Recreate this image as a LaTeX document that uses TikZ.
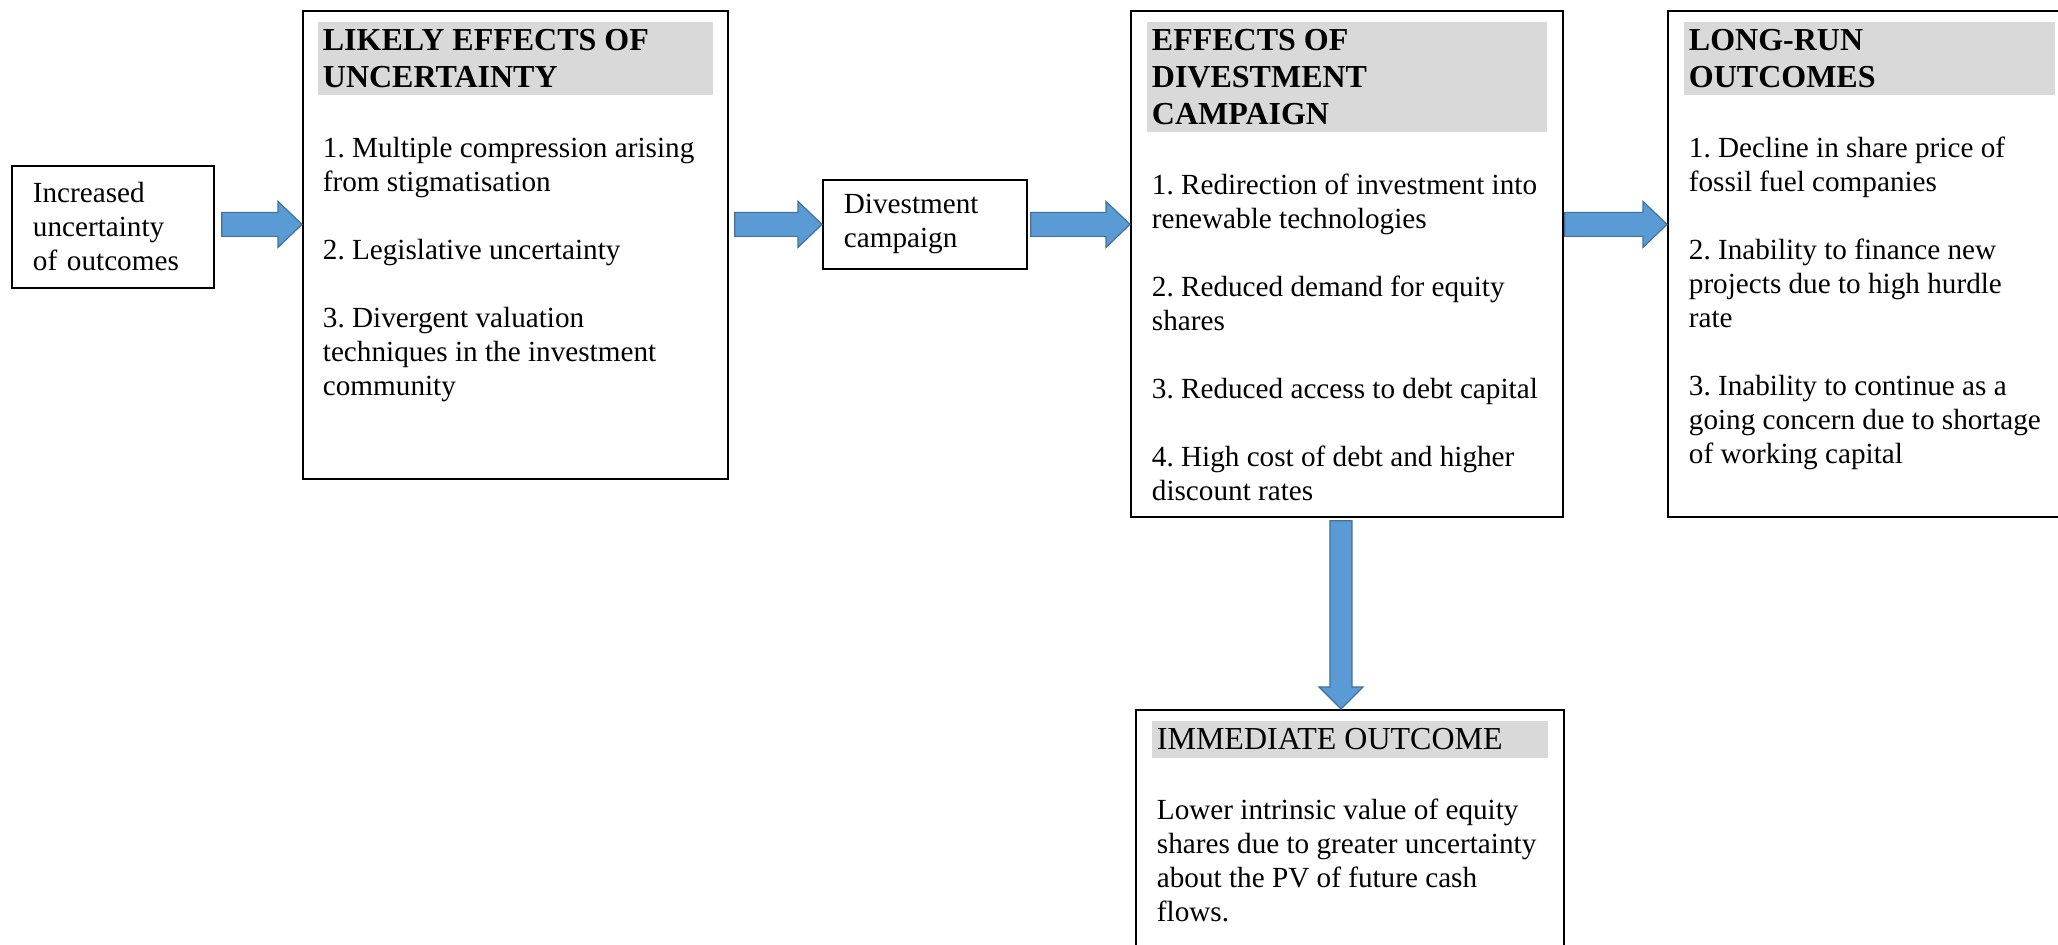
\documentclass[tikz,border=0pt]{standalone}
\usepackage{fontspec}
\setmainfont{Liberation Serif}
\usetikzlibrary{calc}
\frenchspacing
\definecolor{headgray}{HTML}{D9D9D9}
\definecolor{arrowblue}{HTML}{5B9BD5}
\definecolor{arrowedge}{HTML}{41719C}
\newcommand{\bodyfont}{\fontsize{14.6pt}{17pt}\selectfont}
\newcommand{\headfont}{\fontsize{16pt}{18.4pt}\selectfont}
\newcommand{\panel}[4]{\begin{minipage}[t][#2][t]{#1}\bodyfont\raggedright\setlength{\parskip}{17pt}\setlength{\fboxsep}{0pt}%
\colorbox{headgray}{\parbox{\linewidth}{\headfont\raggedright\leftskip=2.5pt\rule{0pt}{14.4pt}#3\rule[-4pt]{0pt}{4pt}}}\par
\nointerlineskip\vspace{2pt}\leftskip=2.5pt #4\end{minipage}}
\tikzstyle{effectbox} = [draw, line width=0.9pt, anchor=north west, inner xsep=8pt, inner ysep=5.5pt]
\tikzstyle{smallbox} = [draw, line width=0.9pt, anchor=north west, inner xsep=10.5pt, align=left, font=\bodyfont]
\tikzstyle{rightarrow} = [fill=arrowblue, draw=arrowedge, line width=0.6pt, to path={let \p1=(\tikztostart), \p2=(\tikztotarget) in (\x1,\y1+6pt) -- (\x2-12pt,\y1+6pt) -- (\x2-12pt,\y1+11.5pt) -- (\x2,\y1) -- (\x2-12pt,\y1-11.5pt) -- (\x2-12pt,\y1-6pt) -- (\x1,\y1-6pt) -- cycle}]
\tikzstyle{downarrow} = [fill=arrowblue, draw=arrowedge, line width=0.6pt, to path={let \p1=(\tikztostart), \p2=(\tikztotarget) in (\x1-5.5pt,\y1) -- (\x1-5.5pt,\y2+11pt) -- (\x1-11pt,\y2+11pt) -- (\x1,\y2) -- (\x1+11pt,\y2+11pt) -- (\x1+5.5pt,\y2+11pt) -- (\x1+5.5pt,\y1) -- cycle}]
\begin{document}
\begin{tikzpicture}[x=0.5pt, y=-0.5pt]
    \useasboundingbox (0,0) rectangle (2058,945);
    \clip (0,0) rectangle (2058,945);
    \draw (11,165) node[smallbox, text width=80pt, minimum height=61pt] (uncert) {Increased\\uncertainty\\of outcomes};
    \draw (302,10) node[effectbox, inner xsep=7.5pt] (likely) {\panel{197.5pt}{223pt}{\bfseries LIKELY EFFECTS OF\\UNCERTAINTY}{\strut 1. Multiple compression arising\\from stigmatisation\par
        \strut 2. Legislative uncertainty\par
        \strut 3. Divergent valuation\\techniques in the investment\\community}};
    \draw (822,179) node[smallbox, text width=81pt, minimum height=44.5pt] (campaign) {Divestment\\campaign};
    \draw (1130,10) node[effectbox] (effects) {\panel{200pt}{242pt}{\bfseries EFFECTS OF\\DIVESTMENT\\CAMPAIGN}{\strut 1. Redirection of investment into\\renewable technologies\par
        \strut 2. Reduced demand for equity\\shares\par
        \strut 3. Reduced access to debt capital\par
        \strut 4. High cost of debt and higher\\discount rates}};
    \draw (1667,10) node[effectbox] (longrun) {\panel{185.5pt}{242pt}{\bfseries LONG-RUN\\OUTCOMES}{\strut 1. Decline in share price of\\fossil fuel companies\par
        \strut 2. Inability to finance new\\projects due to high hurdle\\rate\par
        \strut 3. Inability to continue as a\\going concern due to shortage\\of working capital}};
    \draw (1135,709) node[effectbox] (immediate) {\panel{198pt}{130pt}{IMMEDIATE OUTCOME}{\strut Lower intrinsic value of equity\\shares due to greater uncertainty\\about the PV of future cash\\flows.}};
    \draw[rightarrow] ([xshift=3.5pt]uncert.east |- campaign.west) to (campaign.west -| likely.west);
    \draw[rightarrow] ([xshift=3pt]likely.east |- campaign.west) to (campaign.west);
    \draw[rightarrow] ([xshift=1.5pt]campaign.east) to (campaign.east -| effects.west);
    \draw[rightarrow] ([xshift=0.5pt]effects.east |- campaign.east) to (campaign.east -| longrun.west);
    \draw[downarrow] ([xshift=-3pt, yshift=-1.5pt]effects.south) to ([xshift=-3pt]effects.south |- immediate.north);
\end{tikzpicture}
\end{document}
